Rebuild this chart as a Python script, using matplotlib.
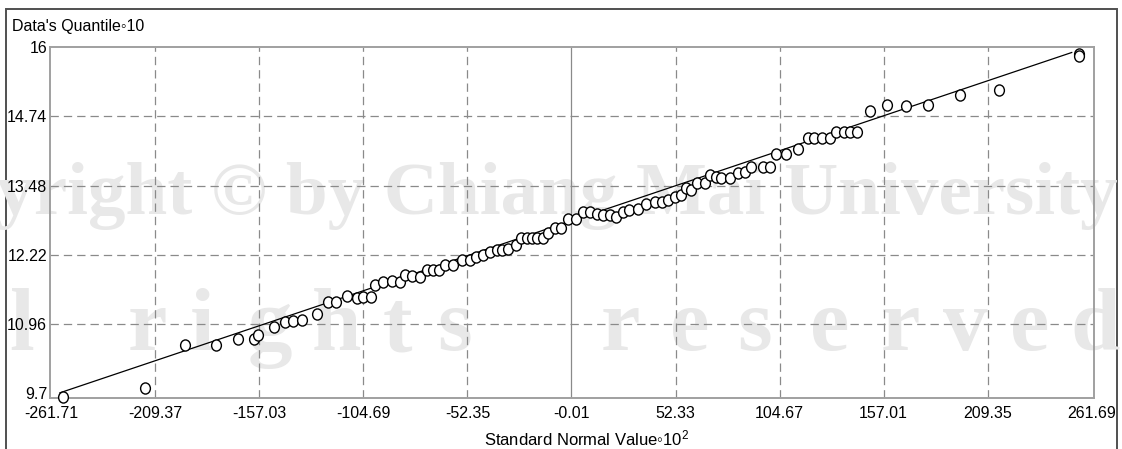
import matplotlib
matplotlib.use("Agg")
import matplotlib.pyplot as plt
from matplotlib.path import Path
from matplotlib.patches import Rectangle
import numpy as np

# ---- data: normal QQ plot (x = standard normal value x100, y = data quantile /10)
normal_value = [
    -255.6, -214.5, -194.4, -178.6, -167.6, -159.5, -157.5, -149.7, -144.2, -140.1,
    -135.8, -128.2, -122.4, -118.2, -113.1, -108.1, -105.0, -101.0, -98.9, -94.7,
    -90.5, -86.3, -83.8, -80.4, -76.3, -72.9, -69.6, -66.6, -63.7, -59.5,
    -55.3, -51.1, -47.8, -44.4, -41.1, -37.7, -35.2, -31.9, -28.0, -25.6,
    -22.6, -20.1, -17.6, -14.3, -11.8, -8.4, -5.5, -1.7, 2.5, 5.8,
    9.2, 12.6, 15.9, 19.3, 22.6, 25.9, 28.8, 33.5, 37.7, 41.9,
    45.3, 48.6, 51.9, 55.3, 57.8, 60.3, 62.9, 67.0, 69.5, 72.9,
    75.4, 79.6, 83.8, 87.1, 90.5, 96.3, 99.7, 103.1, 108.1, 113.9,
    119.0, 122.0, 126.0, 129.9, 133.0, 137.0, 140.0, 143.5, 150.0, 158.9,
    168.1, 179.3, 195.2, 215.1, 255.2, 255.2,
]
data_quantile = [
    9.64, 9.80, 10.58, 10.58, 10.68, 10.69, 10.76, 10.91, 10.99, 11.01,
    11.04, 11.15, 11.36, 11.36, 11.47, 11.44, 11.45, 11.46, 11.67, 11.73,
    11.74, 11.73, 11.85, 11.83, 11.82, 11.94, 11.95, 11.94, 12.03, 12.03,
    12.12, 12.12, 12.18, 12.21, 12.27, 12.30, 12.30, 12.33, 12.39, 12.52,
    12.52, 12.52, 12.52, 12.52, 12.61, 12.70, 12.70, 12.88, 12.88, 13.00,
    13.00, 12.97, 12.94, 12.94, 12.91, 12.99, 13.03, 13.06, 13.15, 13.18,
    13.18, 13.21, 13.27, 13.30, 13.43, 13.39, 13.52, 13.52, 13.67, 13.64,
    13.61, 13.61, 13.70, 13.73, 13.82, 13.82, 13.82, 14.06, 14.06, 14.15,
    14.35, 14.35, 14.35, 14.35, 14.45, 14.45, 14.45, 14.45, 14.84, 14.94,
    14.93, 14.94, 15.13, 15.22, 15.87, 15.83,
]
# reference line end points
ref_line_x = [-257.3, 251.6]
ref_line_y = [9.71, 15.90]

x_ticks = [-261.71, -209.37, -157.03, -104.69, -52.35, -0.01,
           52.33, 104.67, 157.01, 209.35, 261.69]
x_tick_labels = ["-261.71", "-209.37", "-157.03", "-104.69", "-52.35", "-0.01",
                 "52.33", "104.67", "157.01", "209.35", "261.69"]
y_ticks = [9.7, 10.96, 12.22, 13.48, 14.74, 16]
y_tick_labels = ["9.7", "10.96", "12.22", "13.48", "14.74", "16"]

x_title = "Standard Normal Value\u25e610$^2$"
y_title = "Data's Quantile\u25e610"

sans = "Liberation Sans"
serif_b = "Liberation Serif"
plt.rcParams["font.family"] = [sans, "DejaVu Sans"]
plt.rcParams["axes.unicode_minus"] = False
plt.rcParams["lines.scale_dashes"] = False
plt.rcParams["mathtext.fontset"] = "custom"
plt.rcParams["mathtext.rm"] = sans
plt.rcParams["mathtext.it"] = sans

W, H = 1122, 449
fig = plt.figure(figsize=(W / 100, H / 100), dpi=100)
fig.patch.set_facecolor("white")

# outer frame
fig.add_artist(Rectangle((6 / W, -0.05), (1117 - 6) / W, (H - 9) / H + 0.05,
                         transform=fig.transFigure, fill=False,
                         ec="#505050", lw=1.4, zorder=-2))

# faint background watermark (kept below the axes)
wm_color = "#e8e8e8"
fig.text(1118 / W, 1 - 214 / H, "Copyright \u00a9 by Chiang Mai University",
         ha="right", va="baseline", fontsize=54, fontweight="bold",
         family=serif_b, color=wm_color, zorder=-1)
wm_letters = "l rights reserved"
wm_letter_x = [22, None, 147, 202, 270, 337, 397, 455, None,
               620, 690, 755, 830, 900, 965, 1030, 1095]
for ch, lx in zip(wm_letters, wm_letter_x):
    if lx is None:
        continue
    fig.text(lx / W, 1 - 350 / H, ch, ha="center", va="baseline",
             fontsize=64, fontweight="bold", family=serif_b, color=wm_color,
             zorder=-1)

ax = fig.add_axes([50 / W, 1 - 398 / H, (1094 - 50) / W, (398 - 47) / H])
ax.set_facecolor("none")
ax.set_xlim(-262.3, 262.8)
ax.set_ylim(9.615, 16.0)

# grid
grid_c = "#8a8a8a"
for xv in x_ticks[1:-1]:
    if abs(xv) < 1:
        ax.axvline(xv, color=grid_c, lw=0.9, zorder=1)
    else:
        ax.axvline(xv, color=grid_c, lw=0.9, ls=(0, (6, 3.6)), zorder=1)
for yv in y_ticks[1:-1]:
    ax.axhline(yv, color=grid_c, lw=0.9, ls=(0, (6, 3.6)), zorder=1)

# reference line
ax.plot(ref_line_x, ref_line_y, color="black", lw=0.9, zorder=3)

# slightly tall ellipse marker
circ = Path.unit_circle()
ell = Path(circ.vertices * np.array([0.88, 1.0]), circ.codes)
ax.plot(normal_value, data_quantile, ls="none", marker=ell, markersize=8.0,
        mfc="white", mec="black", mew=1.0, zorder=4, clip_on=False)

ax.set_xticks(x_ticks)
ax.set_xticklabels(x_tick_labels)
ax.set_yticks(y_ticks)
ax.set_yticklabels(y_tick_labels)
ax.tick_params(length=0, labelsize=11.5, colors="black")
ax.tick_params(axis="x", pad=6)
ax.tick_params(axis="y", pad=2)
for s in ax.spines.values():
    s.set_color("#a0a0a0")
    s.set_linewidth(1.4)

fig.text(12 / W, 1 - 26 / H, y_title, ha="left", va="center", fontsize=11.5)
fig.text(587 / W, 1 - 438 / H, x_title, ha="center", va="center", fontsize=12)

fig.savefig("out.png", dpi=100)
